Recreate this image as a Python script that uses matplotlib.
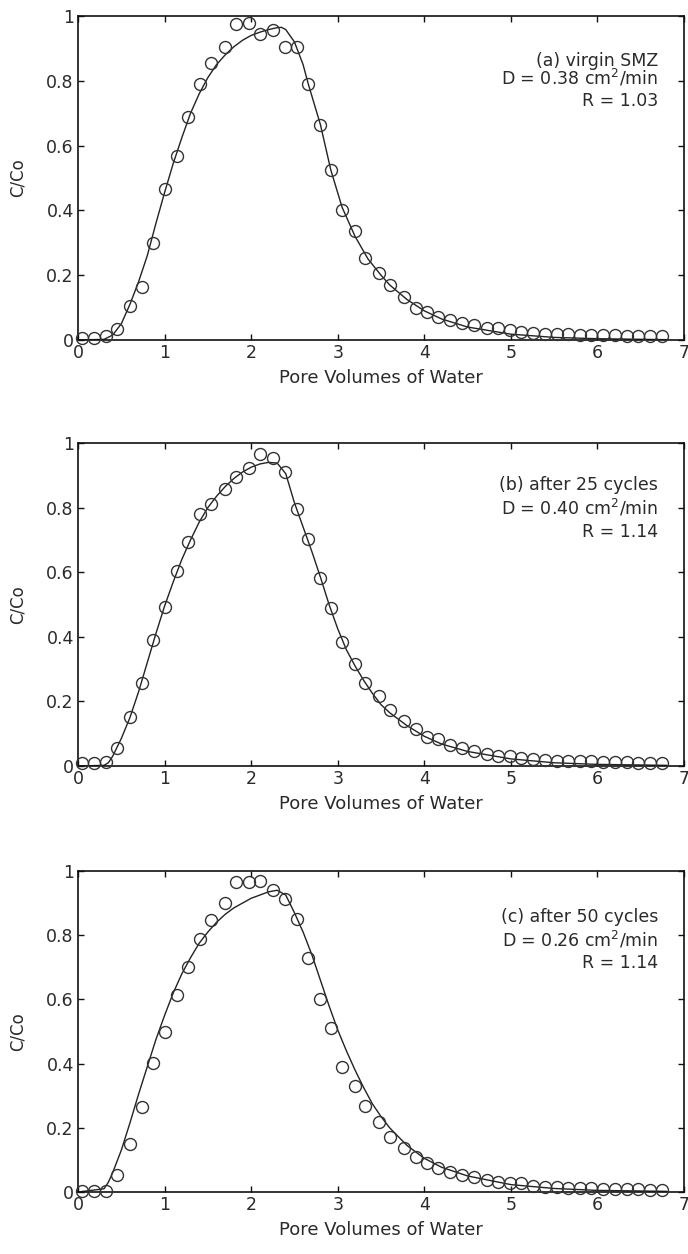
import matplotlib
matplotlib.use("Agg")
import matplotlib.pyplot as plt

plt.rcParams['font.family'] = ['DejaVu Sans']
plt.rcParams['mathtext.fontset'] = 'dejavusans'

# Pore volumes of the measured points (same for all panels)
pore_volumes = [0.05, 0.18, 0.32, 0.45, 0.60, 0.74, 0.87, 1.01, 1.14, 1.27,
                1.41, 1.54, 1.70, 1.82, 1.98, 2.10, 2.25, 2.39, 2.53, 2.66,
                2.80, 2.92, 3.05, 3.20, 3.31, 3.48, 3.60, 3.76, 3.90, 4.03,
                4.16, 4.30, 4.44, 4.58, 4.72, 4.85, 4.99, 5.12, 5.26, 5.39,
                5.53, 5.66, 5.80, 5.93, 6.07, 6.20, 6.34, 6.47, 6.61, 6.75]

obs_a = [0.005, 0.005, 0.012, 0.034, 0.105, 0.165, 0.300, 0.465, 0.568, 0.687,
         0.790, 0.854, 0.903, 0.975, 0.977, 0.944, 0.957, 0.904, 0.905, 0.790,
         0.665, 0.525, 0.400, 0.336, 0.252, 0.206, 0.170, 0.134, 0.098, 0.087,
         0.072, 0.062, 0.051, 0.046, 0.036, 0.036, 0.031, 0.026, 0.022, 0.020,
         0.018, 0.017, 0.016, 0.015, 0.015, 0.014, 0.013, 0.012, 0.012, 0.011]

obs_b = [0.009, 0.009, 0.013, 0.057, 0.151, 0.258, 0.390, 0.493, 0.605, 0.695,
         0.780, 0.810, 0.857, 0.896, 0.924, 0.965, 0.955, 0.911, 0.795, 0.702,
         0.581, 0.488, 0.385, 0.315, 0.258, 0.217, 0.173, 0.139, 0.114, 0.091,
         0.083, 0.065, 0.055, 0.047, 0.037, 0.031, 0.031, 0.024, 0.021, 0.019,
         0.017, 0.016, 0.015, 0.014, 0.013, 0.012, 0.011, 0.010, 0.009, 0.008]

obs_c = [0.003, 0.003, 0.003, 0.053, 0.150, 0.264, 0.403, 0.500, 0.615, 0.700,
         0.788, 0.847, 0.901, 0.966, 0.966, 0.969, 0.941, 0.913, 0.850, 0.728,
         0.601, 0.510, 0.390, 0.330, 0.269, 0.217, 0.172, 0.136, 0.110, 0.089,
         0.074, 0.061, 0.053, 0.046, 0.037, 0.032, 0.027, 0.027, 0.019, 0.017,
         0.015, 0.013, 0.012, 0.011, 0.010, 0.009, 0.008, 0.008, 0.007, 0.007]

# Fitted model curves
fit_x_a = [0.0, 0.3, 0.4, 0.5, 0.6, 0.7, 0.8, 0.9, 1.0, 1.1, 1.2, 1.3, 1.4, 1.5,
           1.6, 1.7, 1.8, 1.9, 2.0, 2.1, 2.2, 2.3, 2.35, 2.4, 2.5, 2.6, 2.66,
           2.8, 2.92, 3.05, 3.2, 3.35, 3.5, 3.6, 3.8, 4.0, 4.2, 4.5, 5.0, 5.5,
           6.0, 6.8]
fit_y_a = [0.0, 0.002, 0.015, 0.050, 0.110, 0.180, 0.260, 0.360, 0.455, 0.545,
           0.625, 0.700, 0.760, 0.810, 0.850, 0.880, 0.905, 0.925, 0.940, 0.950,
           0.958, 0.964, 0.965, 0.958, 0.920, 0.850, 0.790, 0.665, 0.525, 0.410,
           0.320, 0.250, 0.200, 0.170, 0.125, 0.090, 0.065, 0.040, 0.018, 0.008,
           0.004, 0.001]

fit_x_b = [0.0, 0.3, 0.35, 0.4, 0.5, 0.6, 0.7, 0.8, 0.9, 1.0, 1.1, 1.2, 1.3, 1.4,
           1.5, 1.6, 1.7, 1.8, 1.9, 2.0, 2.1, 2.2, 2.3, 2.4, 2.5, 2.6, 2.7, 2.8,
           2.9, 3.0, 3.1, 3.2, 3.3, 3.4, 3.5, 3.6, 3.8, 4.0, 4.2, 4.5, 5.0, 5.5,
           6.0, 6.8]
fit_y_b = [0.0, 0.002, 0.010, 0.030, 0.085, 0.150, 0.230, 0.320, 0.410, 0.495,
           0.570, 0.640, 0.700, 0.755, 0.800, 0.835, 0.865, 0.890, 0.910, 0.925,
           0.935, 0.940, 0.938, 0.905, 0.815, 0.740, 0.665, 0.585, 0.500, 0.425,
           0.360, 0.310, 0.265, 0.225, 0.190, 0.165, 0.125, 0.092, 0.068, 0.045,
           0.022, 0.010, 0.005, 0.002]

fit_x_c = [0.0, 0.3, 0.35, 0.4, 0.5, 0.6, 0.7, 0.8, 0.9, 1.0, 1.1, 1.2, 1.3, 1.4,
           1.5, 1.6, 1.7, 1.8, 1.9, 2.0, 2.1, 2.2, 2.3, 2.4, 2.5, 2.6, 2.7, 2.8,
           2.9, 3.0, 3.1, 3.2, 3.3, 3.4, 3.5, 3.6, 3.8, 4.0, 4.2, 4.5, 5.0, 5.5,
           6.0, 6.8]
fit_y_c = [0.0, 0.010, 0.030, 0.060, 0.130, 0.215, 0.305, 0.390, 0.475, 0.550,
           0.620, 0.680, 0.730, 0.775, 0.810, 0.840, 0.865, 0.885, 0.900, 0.915,
           0.925, 0.935, 0.940, 0.925, 0.870, 0.810, 0.740, 0.660, 0.580, 0.505,
           0.440, 0.380, 0.325, 0.275, 0.235, 0.200, 0.145, 0.105, 0.077, 0.050,
           0.023, 0.011, 0.005, 0.002]

labels = ["(a) virgin SMZ", "(b) after 25 cycles", "(c) after 50 cycles"]
d_values = ["0.38", "0.40", "0.26"]
r_values = ["1.03", "1.14", "1.14"]

x_ticks = [0, 1, 2, 3, 4, 5, 6, 7]
y_ticks = [0, 0.2, 0.4, 0.6, 0.8, 1]
y_tick_labels = ["0", "0.2", "0.4", "0.6", "0.8", "1"]

W, H = 688, 1254
fig = plt.figure(figsize=(W / 100, H / 100), dpi=100)

# axes pixel boxes: (left, top, right, bottom)
boxes = [(78, 16, 684, 340), (78, 443, 684, 766), (78, 871, 684, 1192)]
text_y = [(0.861, 0.808, 0.738), (0.870, 0.798, 0.725), (0.858, 0.785, 0.712)]

obs_all = [obs_a, obs_b, obs_c]
fits = [(fit_x_a, fit_y_a), (fit_x_b, fit_y_b), (fit_x_c, fit_y_c)]
txt_color = '#2a2a2a'

for i, (l, t, r, b) in enumerate(boxes):
    ax = fig.add_axes([l / W, 1 - b / H, (r - l) / W, (b - t) / H])
    fx, fy = fits[i]
    ax.plot(fx, fy, color='#222222', lw=1.0, zorder=2)
    ax.plot(pore_volumes, obs_all[i], linestyle='none', marker='o',
            markersize=8.6, markerfacecolor='none', markeredgecolor='#333333',
            markeredgewidth=1.0, zorder=3, clip_on=False)
    ax.set_xlim(0, 7)
    ax.set_ylim(0, 1)
    ax.set_xticks(x_ticks)
    ax.set_xticklabels([str(v) for v in x_ticks])
    ax.set_yticks(y_ticks)
    ax.set_yticklabels(y_tick_labels)
    ax.tick_params(direction='in', length=4, width=1.0, top=True, right=True,
                   labelsize=12.5, colors='#111111', labelcolor=txt_color, pad=3)
    for s in ax.spines.values():
        s.set_linewidth(1.2)
        s.set_color('#111111')
    ax.set_xlabel("Pore Volumes of Water", fontsize=13, color=txt_color, labelpad=5)
    ax.set_ylabel("C/Co", fontsize=12, color=txt_color)
    ax.yaxis.set_label_coords(-0.084, 0.5)
    ty = text_y[i]
    ax.text(0.957, ty[0], labels[i], transform=ax.transAxes, ha='right',
            va='center', fontsize=12.5, color=txt_color)
    ax.text(0.957, ty[1], "D = " + d_values[i] + r" cm$^{2}$/min",
            transform=ax.transAxes, ha='right', va='center', fontsize=12.5,
            color=txt_color)
    ax.text(0.957, ty[2], "R = " + r_values[i], transform=ax.transAxes,
            ha='right', va='center', fontsize=12.5, color=txt_color)

fig.savefig("out.png", dpi=100)
